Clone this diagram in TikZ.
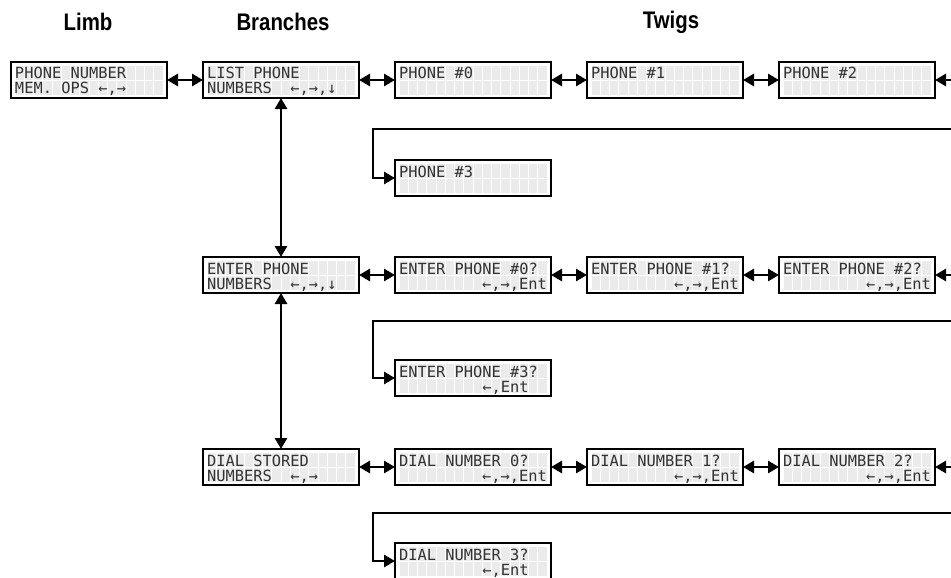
\documentclass[tikz,border=0pt]{standalone}
\usepackage{fontspec}
\setmainfont{Liberation Sans}
\newfontfamily\lcdfont{DejaVu Sans Mono}
\newfontfamily\headfont[FakeStretch=0.85]{Liberation Sans}
\usetikzlibrary{arrows.meta}
\newcommand\lcdtext[2]{\spaceskip=0pt\xspaceskip=0pt\rule{0pt}{16pt}#1\\#2\rule[-3pt]{0pt}{3pt}}

\begin{document}
\begin{tikzpicture}[x=1pt,y=-1pt,
 lcd/.style={draw,line width=1.2pt,fill=white,anchor=north west,inner xsep=4pt,inner ysep=0pt,outer sep=0pt,
  minimum width=156pt,minimum height=36pt,text width=148pt,align=left,text=black!80,
  font=\lcdfont\fontsize{15.37pt}{15pt}\selectfont,
  path picture={\foreach \i in {0,...,15}\foreach \j in {0,1}
   \fill[black!8] ([xshift={4.5pt+\i*9.25pt},yshift={-4pt-\j*15pt}]path picture bounding box.north west) rectangle ++(8.25,14);}},
 head/.style={font=\headfont\bfseries\fontsize{24pt}{24pt}\selectfont},
 link/.style={line width=2.8pt,{Triangle[length=11pt,width=12pt]}-{Triangle[length=11pt,width=12pt]}},
 lone/.style={line width=2.8pt,{Triangle[length=11pt,width=12pt]}-},
 back/.style={line width=2.8pt,-{Triangle[length=11pt,width=12pt]}}]
 \def\ra{62}\def\rb{257}\def\rc{449}
 \def\sa{160}\def\sb{360}\def\sc{543}
 \useasboundingbox (0,0) rectangle (951,578);
 \node[head] (hlimb) at (88,22) {Limb};
 \node[head] (hbranch) at (283,22) {Branches};
 \node[head] (htwig) at (671,22) {Twigs};
 % limb and branches
 \node[lcd] (limb) at (11,\ra) {\lcdtext{PHONE~NUMBER}{MEM.~OPS~←,→}};
 \node[lcd] (list) at (203,\ra) {\lcdtext{LIST~PHONE}{NUMBERS~~←,→,↓}};
 \node[lcd] (enter) at (203,\rb) {\lcdtext{ENTER~PHONE}{NUMBERS~~←,→,↓}};
 \node[lcd] (dial) at (203,\rc) {\lcdtext{DIAL~STORED}{NUMBERS~~←,→}};
 % twigs
 \node[lcd] (ph0) at (395,\ra) {\lcdtext{PHONE~\#0}{}};
 \node[lcd] (ph1) at (587,\ra) {\lcdtext{PHONE~\#1}{}};
 \node[lcd] (ph2) at (779,\ra) {\lcdtext{PHONE~\#2}{}};
 \node[lcd] (ph3) at (395,\sa) {\lcdtext{PHONE~\#3}{}};
 \node[lcd] (en0) at (395,\rb) {\lcdtext{ENTER~PHONE~\#0?}{~~~~~~~~~←,→,Ent}};
 \node[lcd] (en1) at (587,\rb) {\lcdtext{ENTER~PHONE~\#1?}{~~~~~~~~~←,→,Ent}};
 \node[lcd] (en2) at (779,\rb) {\lcdtext{ENTER~PHONE~\#2?}{~~~~~~~~~←,→,Ent}};
 \node[lcd] (en3) at (395,\sb) {\lcdtext{ENTER~PHONE~\#3?}{~~~~~~~~~←,Ent}};
 \node[lcd] (di0) at (395,\rc) {\lcdtext{DIAL~NUMBER~0?}{~~~~~~~~~←,→,Ent}};
 \node[lcd] (di1) at (587,\rc) {\lcdtext{DIAL~NUMBER~1?}{~~~~~~~~~←,→,Ent}};
 \node[lcd] (di2) at (779,\rc) {\lcdtext{DIAL~NUMBER~2?}{~~~~~~~~~←,→,Ent}};
 \node[lcd] (di3) at (395,\sc) {\lcdtext{DIAL~NUMBER~3?}{~~~~~~~~~←,Ent}};
 \coordinate (cut1) at (951,\ra+18);
 \coordinate (cut2) at (951,\rb+18);
 \coordinate (cut3) at (951,\rc+18);
 \coordinate (ret1) at (951,129);
 \coordinate (ret2) at (951,321);
 \coordinate (ret3) at (951,513);
 \draw[link] (limb) -- (list);
 \draw[link] (list) -- (enter);
 \draw[link] (enter) -- (dial);
 \foreach \a/\b in {list/ph0,ph0/ph1,ph1/ph2,enter/en0,en0/en1,en1/en2,dial/di0,di0/di1,di1/di2}
  \draw[link] (\a) -- (\b);
 \foreach \a/\b in {ph2/cut1,en2/cut2,di2/cut3}
  \draw[lone] (\a) -- (\b);
 \foreach \a/\b in {ret1/ph3,ret2/en3,ret3/di3}
  \draw[back] (\a) -- +(-578,0) |- (\b);
\end{tikzpicture}
\end{document}
